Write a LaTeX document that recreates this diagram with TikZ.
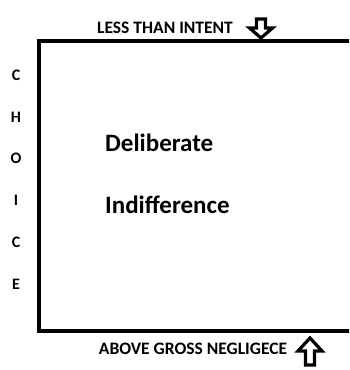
\documentclass[tikz,border=0pt]{standalone}
\usepackage{fontspec}
\setmainfont{Carlito}
\usepackage{tikz}

\begin{document}
\begin{tikzpicture}[x=1pt, y=-1pt, every node/.style={inner sep=0pt, font=\bfseries},
label/.style={font=\bfseries\fontsize{17.5}{20}\selectfont},
letter/.style={font=\bfseries\fontsize{16}{18}\selectfont},
term/.style={font=\bfseries\fontsize{25}{28}\selectfont, anchor=west},
hollow/.style={draw, line width=3.2pt, fill=white, line join=miter}]
\useasboundingbox (0,0) rectangle (349,370);
\clip (0,0) rectangle (349,370);
% frame, cut off on the right
\draw[line width=4pt] (400,41) -- (38.7,41) -- (38.7,331) -- (400,331);
% labels
\node[label] (less) at (165,28) {LESS THAN INTENT};
\node[label] (above) at (193,349) {ABOVE GROSS NEGLIGECE};
\draw[hollow] (256.5,19) -- (265.5,19) -- (265.5,28) -- (272.5,28) -- (261,38)
  -- (249.5,28) -- (256.5,28) -- cycle;
\draw[hollow] (305.5,365) -- (314.5,365) -- (314.5,351) -- (322,351) -- (310,338)
  -- (298,351) -- (305.5,351) -- cycle;
% side letters
\node[letter] (c1) at (16,75) {C};
\node[letter] (h) at (16,117) {H};
\node[letter] (o) at (16,158) {O};
\node[letter] (i) at (16,200) {I};
\node[letter] (c2) at (16,242) {C};
\node[letter] (e) at (16,284) {E};
% terms
\node[term] (delib) at (105,143) {Deliberate};
\node[term] (indiff) at (105,205) {Indifference};
\end{tikzpicture}
\end{document}
